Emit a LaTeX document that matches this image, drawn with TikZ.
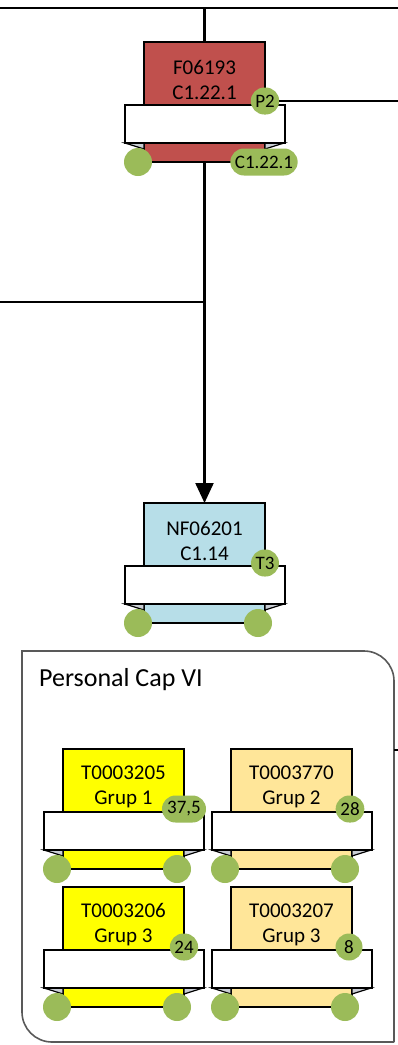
\documentclass[tikz,border=0pt]{standalone}
\usepackage{fontspec}
\setmainfont{Carlito}
\usetikzlibrary{arrows.meta,shapes.misc}
\definecolor{cred}{HTML}{C0504D}
\definecolor{cblue}{HTML}{B7DEE8}
\definecolor{cyel}{HTML}{FFFF00}
\definecolor{corg}{HTML}{FFE699}
\definecolor{cgreen}{HTML}{9BBB59}
\definecolor{cfold}{HTML}{C9CDD4}
\definecolor{cgrayline}{HTML}{595959}
\tikzset{
  boxst/.style={draw=black, line width=1.6pt, minimum width=121, minimum height=120, anchor=north west, inner sep=0pt, outer sep=0pt},
  ribbonst/.style={draw=black, line width=1.6pt, fill=white, minimum width=160, minimum height=38, anchor=north west, inner sep=0pt, outer sep=0pt},
  foldst/.style={draw=black, line width=1.2pt, fill=cfold, line join=miter},
  lbl/.style={align=center, inner sep=0pt, font=\fontsize{21}{25}\selectfont},
  dotst/.style={circle, fill=cgreen, minimum size=28, inner sep=0pt},
  pill/.style={rounded rectangle, fill=cgreen, minimum height=27, minimum width=27, inner xsep=3pt, inner ysep=0pt, font=\fontsize{19}{20}\selectfont},
  conn/.style={draw=black, line width=2.2pt},
  contst/.style={draw=cgrayline, line width=1.6pt},
}
% #1 name, #2 left x, #3 top y, #4 fill, #5 line 1, #6 line 2
\newcommand\mytile[6]{%
  \node[boxst, fill=#4] (#1) at (#2,#3) {};
  \node[lbl] (#1t) at (#2+60.5,#3+38) {#5\\#6};
  \draw[foldst] (#2-19,#3+101) -- (#2,#3+101) -- (#2,#3+107) -- cycle;
  \draw[foldst] (#2+140,#3+101) -- (#2+121,#3+101) -- (#2+121,#3+107) -- cycle;
  \node[ribbonst] (#1r) at (#2-19,#3+63) {};
  \node[dotst] (#1a) at (#2-6,#3+120) {};
}
\begin{document}
\begin{tikzpicture}[x=1pt,y=-1pt]
\useasboundingbox (0,0) rectangle (398,1045);
% container
\draw[contst] (394,1042) -- (394,681) arc[start angle=0,end angle=-90,radius=30]
  -- (22,651) -- (22,1012) arc[start angle=180,end angle=90,radius=30] -- (394,1042);
\node[anchor=west, inner sep=0pt, font=\fontsize{26}{30}\selectfont] (cap) at (39,680) {Personal Cap VI};
\coordinate (cr) at (398,750);
\draw[conn, line width=1.6pt] (cr) -- (394,750);

% top node
\mytile{f}{144}{42}{cred}{F06193}{C1.22.1}
\node[pill] (fp) at (265,101) {P2};
\node[pill] (fq) at (264,162) {C1.22.1};

% second node
\mytile{n}{144}{503}{cblue}{NF06201}{C1.14}
\node[pill] (np) at (265,563) {T3};
\node[dotst] (nb) at (258,623) {};

% tiles
\mytile{ta}{63}{749}{cyel}{T0003205}{Grup 1}
\node[pill] (tap) at (184,809) {37,5};
\node[dotst] (tab) at (177,869) {};

\mytile{tb}{231}{749}{corg}{T0003770}{Grup 2}
\node[pill] (tbp) at (350,809) {28};
\node[dotst] (tbb) at (345,869) {};

\mytile{tc}{63}{887}{cyel}{T0003206}{Grup 3}
\node[pill] (tcp) at (184,947) {24};
\node[dotst] (tcb) at (177,1007) {};

\mytile{td}{231}{887}{corg}{T0003207}{Grup 3}
\node[pill] (tdp) at (349,947) {8};
\node[dotst] (tdb) at (345,1007) {};

% connectors
\coordinate (ta0) at (0,8);
\coordinate (tb0) at (398,8);
\draw[conn] (ta0) -- (tb0);
\draw[conn] (f.north) -- (f.north |- ta0);
\coordinate (pr) at (398,101);
\draw[conn] (fp.east) -- (pr);
\coordinate (lj) at (0,302);
\draw[conn] (lj) -- (lj -| f.south);
\draw[conn, -{Triangle[width=18pt,length=20pt]}] (f.south) -- (n.north);
\end{tikzpicture}
\end{document}
